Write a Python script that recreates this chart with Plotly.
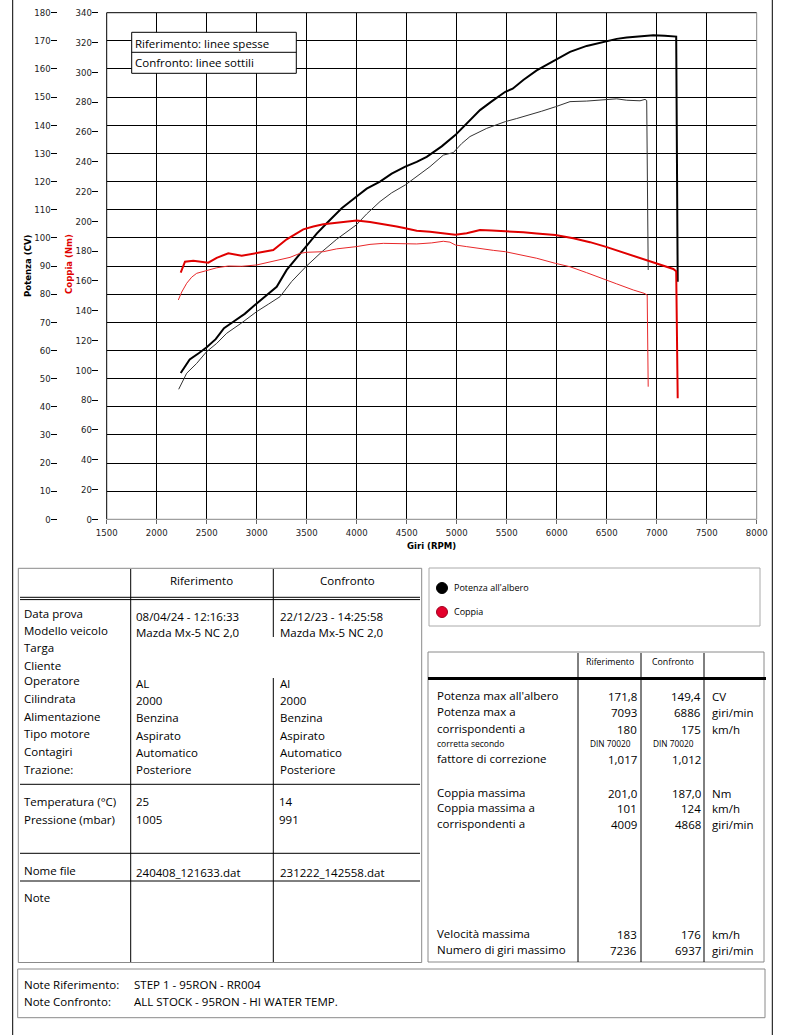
import plotly.graph_objects as go

# --- curve data (rpm / CV / Nm) ---
ref_pow_rpm = [2240, 2330, 2420, 2500, 2590, 2673, 2766, 2880, 3000, 3150, 3200, 3300, 3400, 3493,
               3600, 3700, 3850, 3996, 4100, 4233, 4350, 4486, 4600, 4700, 4850, 4986, 5100, 5233,
               5350, 5486, 5560, 5666, 5800, 5990, 6133, 6300, 6483, 6600, 6700, 6833, 6966, 7080,
               7183, 7195, 7210]
ref_pow_cv = [52.0, 56.8, 59.0, 61.1, 64.0, 67.9, 70.2, 73.0, 76.7, 80.9, 82.6, 88.6, 93.0, 96.9,
              101.5, 105.2, 110.5, 114.6, 117.5, 120.0, 122.8, 125.3, 127.0, 128.8, 132.5, 136.5, 140.5, 145.4,
              148.5, 151.9, 153.0, 156.1, 159.5, 163.2, 166.1, 168.2, 169.7, 170.7, 171.2, 171.7, 172.0, 171.8,
              171.7, 171.5, 84.4]

cmp_pow_rpm = [2220, 2300, 2400, 2500, 2600, 2700, 2850, 3000, 3120, 3233, 3350, 3493, 3650, 3800,
               3996, 4100, 4233, 4350, 4486, 4600, 4733, 4866, 4966, 5050, 5133, 5300, 5486, 5600,
               5733, 5850, 5990, 6133, 6300, 6483, 6600, 6700, 6833, 6883, 6900, 6915]
cmp_pow_cv = [46.2, 51.9, 55.4, 59.6, 62.5, 66.1, 69.8, 73.8, 76.5, 79.1, 84.5, 89.8, 95.0, 99.5,
              104.6, 108.5, 112.9, 116.0, 118.8, 121.8, 125.3, 129.4, 130.3, 133.5, 136.0, 138.9, 141.3, 142.4,
              143.7, 145.0, 146.6, 148.4, 148.6, 149.2, 149.4, 148.9, 148.7, 149.2, 148.8, 88.6]

ref_trq_rpm = [2240, 2283, 2366, 2440, 2516, 2600, 2716, 2850, 3000, 3166, 3300, 3466, 3566, 3666,
               3800, 4000, 4133, 4266, 4400, 4486, 4600, 4733, 4850, 4986, 5100, 5233, 5350, 5466,
               5566, 5666, 5800, 5986, 6166, 6333, 6486, 6600, 6700, 6800, 6900, 7030, 7166, 7195, 7210]
ref_trq_nm = [165.5, 172.9, 173.6, 173.0, 172.2, 175.5, 178.5, 176.9, 178.9, 180.7, 187.9, 194.6, 196.5, 198.0,
              199.0, 200.6, 199.5, 198.2, 196.5, 195.3, 193.7, 193.0, 191.9, 191.0, 192.0, 194.2, 193.8, 193.5,
              193.0, 192.6, 191.8, 190.8, 188.6, 186.0, 183.0, 180.5, 178.5, 176.0, 174.0, 171.0, 168.0, 166.5, 81.2]

cmp_trq_rpm = [2216, 2250, 2300, 2350, 2400, 2506, 2600, 2716, 2850, 3000, 3133, 3250, 3333, 3433,
               3500, 3666, 3800, 3996, 4133, 4266, 4486, 4600, 4750, 4866, 4933, 4986, 5100, 5233,
               5366, 5486, 5650, 5800, 5986, 6133, 6300, 6486, 6600, 6766, 6873, 6905, 6915]
cmp_trq_nm = [147.2, 152.5, 158.4, 162.5, 165.1, 166.8, 168.8, 170.0, 169.8, 170.7, 172.7, 174.5, 175.8, 178.5,
              179.2, 179.6, 181.5, 183.0, 184.5, 185.2, 185.2, 184.8, 185.5, 186.6, 186.0, 184.1, 183.0, 181.5,
              180.5, 179.6, 177.5, 175.2, 171.8, 169.5, 165.5, 161.1, 158.0, 153.9, 151.7, 150.5, 89.0]

# --- table contents ---
info_labels = ["Data prova", "Modello veicolo", "Targa", "Cliente", "Operatore", "Cilindrata",
               "Alimentazione", "Tipo motore", "Contagiri", "Trazione:"]
info_ref = ["08/04/24 - 12:16:33", "Mazda Mx-5 NC 2,0", "", "", "AL", "2000", "Benzina", "Aspirato",
            "Automatico", "Posteriore"]
info_cmp = ["22/12/23 - 14:25:58", "Mazda Mx-5 NC 2,0", "", "", "Al", "2000", "Benzina", "Aspirato",
            "Automatico", "Posteriore"]
env_labels = ["Temperatura (°C)", "Pressione (mbar)"]
env_ref = ["25", "1005"]
env_cmp = ["14", "991"]
file_ref, file_cmp = "240408_121633.dat", "231222_142558.dat"

res_labels = ["Potenza max all'albero", "Potenza max a", "corrispondenti a", "corretta secondo",
              "fattore di correzione", "Coppia massima", "Coppia massima a", "corrispondenti a",
              "Velocità massima", "Numero di giri massimo"]
res_ref = ["171,8", "7093", "180", "DIN 70020", "1,017", "201,0", "101", "4009", "183", "7236"]
res_cmp = ["149,4", "6886", "175", "DIN 70020", "1,012", "187,0", "124", "4868", "176", "6937"]
res_unit = ["CV", "giri/min", "km/h", "", "", "Nm", "km/h", "giri/min", "km/h", "giri/min"]

note_ref = "STEP 1 - 95RON - RR004"
note_cmp = "ALL STOCK - 95RON - HI WATER TEMP."

W, H = 791, 1035
UI = "Open Sans, Noto Sans, DejaVu Sans, sans-serif"
NARROW = "Liberation Sans Narrow, Arial Narrow, DejaVu Sans Condensed, sans-serif"
FS = 11.5  # table text size


def X(p):
    return p / W


def Y(p):
    return 1 - p / H


shapes = []
annots = []


def line(x0, y0, x1, y1, color="#000", width=1):
    shapes.append(dict(type="line", xref="paper", yref="paper", x0=X(x0), y0=Y(y0), x1=X(x1), y1=Y(y1),
                       line=dict(color=color, width=width)))


def box(x0, y0, x1, y1, color="#000", width=1, fill=None):
    shapes.append(dict(type="rect", xref="paper", yref="paper", x0=X(x0), y0=Y(y0), x1=X(x1), y1=Y(y1),
                       line=dict(color=color, width=width), fillcolor=fill))


def txt(x, y, s, size=FS, color="#000", anchor="left", family=UI, angle=0):
    if s == "":
        return
    annots.append(dict(x=X(x), y=Y(y), xref="paper", yref="paper", text=s, showarrow=False,
                       xanchor=anchor, yanchor="middle", textangle=angle,
                       font=dict(family=family, size=size, color=color)))


fig = go.Figure()
fig.add_trace(go.Scatter(x=cmp_trq_rpm, y=cmp_trq_nm, yaxis="y2", mode="lines",
                         line=dict(color="#e8282a", width=1)))
fig.add_trace(go.Scatter(x=ref_trq_rpm, y=ref_trq_nm, yaxis="y2", mode="lines",
                         line=dict(color="#e00000", width=2)))
fig.add_trace(go.Scatter(x=cmp_pow_rpm, y=cmp_pow_cv, mode="lines",
                         line=dict(color="#333333", width=1)))
fig.add_trace(go.Scatter(x=ref_pow_rpm, y=ref_pow_cv, mode="lines",
                         line=dict(color="#000000", width=2)))

# plot frame
line(106.7, 12.7, 756.7, 12.7)
line(106.7, 12.7, 106.7, 519.3)
line(756.7, 12.7, 756.7, 519.3, color="#888")
line(106.7, 519.3, 756.7, 519.3, color="#888")

# "linee spesse / sottili" box
box(131.7, 32.3, 296.3, 73.3, fill="white")
line(131.7, 52.3, 296.3, 52.3)
txt(132.5, 43.5, "Riferimento: linee spesse")
txt(132.5, 63, "Confronto: linee sottili")

# axis titles
txt(27, 266, "<b>Potenza (CV)</b>", size=9.5, family=NARROW, anchor="center", angle=-90)
txt(69, 264, "<b>Coppia (Nm)</b>", size=9.5, color="#e00000", family=NARROW, anchor="center", angle=-90)
txt(431, 545, "<b>Giri (RPM)</b>", size=9.5, family=NARROW, anchor="center")

# page edges
line(12.7, 0, 12.7, H)
line(772.3, 0, 772.3, H)

# left info table
box(18.3, 568.3, 421.7, 962.5, color="#8a8a8a")
line(20, 597.3, 420, 597.3)
line(20, 599.6, 420, 599.6)
for yy in (784.3, 853.3, 881):
    line(20, yy, 420, yy)
line(130.7, 569, 130.7, 962)
line(273.3, 569, 273.3, 637)
line(273.3, 678, 273.3, 962)
txt(201.7, 580, "Riferimento", anchor="center")
txt(347.3, 580, "Confronto", anchor="center")
lab_y = [613.3, 630, 647.3, 665, 680.3, 698.3, 716, 733.3, 751, 769]
val_y = [616, 632, 649, 666, 683, 700, 717, 735, 752, 769]
for i, lab in enumerate(info_labels):
    txt(22, lab_y[i], lab)
    txt(134, val_y[i], info_ref[i])
    txt(277.5, val_y[i], info_cmp[i])
for i, lab in enumerate(env_labels):
    txt(22, 801.7 + i * 17.5, lab)
    txt(134, 801.7 + i * 17.5, env_ref[i])
    txt(276.5, 801.7 + i * 17.5, env_cmp[i])
txt(22, 870, "Nome file")
txt(134, 872, file_ref)
txt(277.5, 872, file_cmp)
txt(22, 897, "Note")

# notes box
box(17.7, 969, 765, 1017.7, color="#8a8a8a")
txt(22, 984, "Note Riferimento:")
txt(22, 1001, "Note Confronto:")
txt(132, 984, note_ref)
txt(132, 1001, note_cmp)

# legend box
box(429, 568, 760, 626, color="#aaaaaa")
shapes.append(dict(type="circle", xref="paper", yref="paper", x0=X(436.5), x1=X(447.5), y0=Y(582.5),
                   y1=Y(593.5), fillcolor="#000", line=dict(color="#000", width=1)))
shapes.append(dict(type="circle", xref="paper", yref="paper", x0=X(436.5), x1=X(447.5), y0=Y(606.5),
                   y1=Y(617.5), fillcolor="#e4002b", line=dict(color="#a00020", width=1)))
txt(452, 587.5, "Potenza all'albero", size=9)
txt(452, 611.5, "Coppia", size=9)

# results table
box(428, 652, 764, 962, color="#8a8a8a")
line(428, 678.5, 766, 678.5, width=3)
for xx in (578, 641, 704):
    line(xx, 653, xx, 962)
txt(610, 662, "Riferimento", size=8.8, anchor="center")
txt(673, 662, "Confronto", size=8.8, anchor="center")
res_y = [695, 711, 728, 743, 758, 792, 807, 823, 933, 949]
for i, lab in enumerate(res_labels):
    if lab == "corretta secondo":
        txt(435, res_y[i], lab, size=8.5)
        txt(610.7, res_y[i], res_ref[i], size=8.3, anchor="center")
        txt(673.3, res_y[i], res_cmp[i], size=8.3, anchor="center")
        continue
    txt(435, res_y[i], lab)
    txt(639, res_y[i] + 1, res_ref[i], anchor="right")
    txt(703, res_y[i] + 1, res_cmp[i], anchor="right")
    txt(710, res_y[i] + 1, res_unit[i])

tick_font = dict(family=NARROW, size=9.5, color="#222")
fig.update_layout(
    width=W, height=H,
    margin=dict(l=0, r=0, t=0, b=0, pad=0, autoexpand=False),
    paper_bgcolor="white", plot_bgcolor="white",
    showlegend=False,
    xaxis=dict(domain=[X(106.7), X(756.7)], range=[1500, 8000], dtick=500, tick0=1500, automargin=False,
               showgrid=True, gridcolor="#000", gridwidth=1, zeroline=False, showline=False,
               ticks="outside", ticklen=4, tickcolor="#666", tickfont=tick_font, anchor="y"),
    yaxis=dict(domain=[Y(519.3), Y(12.7)], range=[0, 180], dtick=10, anchor="free", position=X(56.5),
               automargin=False, ticklabelstandoff=-2,
               showgrid=True, gridcolor="#000", gridwidth=1, zeroline=False, showline=False,
               ticks="outside", ticklen=6, tickcolor="#000", tickfont=tick_font),
    yaxis2=dict(domain=[Y(519.3), Y(12.7)], range=[0, 340], dtick=20, anchor="free", position=X(98.3),
                automargin=False, ticklabelstandoff=-2,
                overlaying="y", side="left", showgrid=False, zeroline=False, showline=False,
                ticks="outside", ticklen=6.5, tickcolor="#000", tickfont=tick_font),
    shapes=shapes,
    annotations=annots,
)

fig.write_html("out.html", config={"displayModeBar": False},
               post_script="document.body.style.margin='0';")
